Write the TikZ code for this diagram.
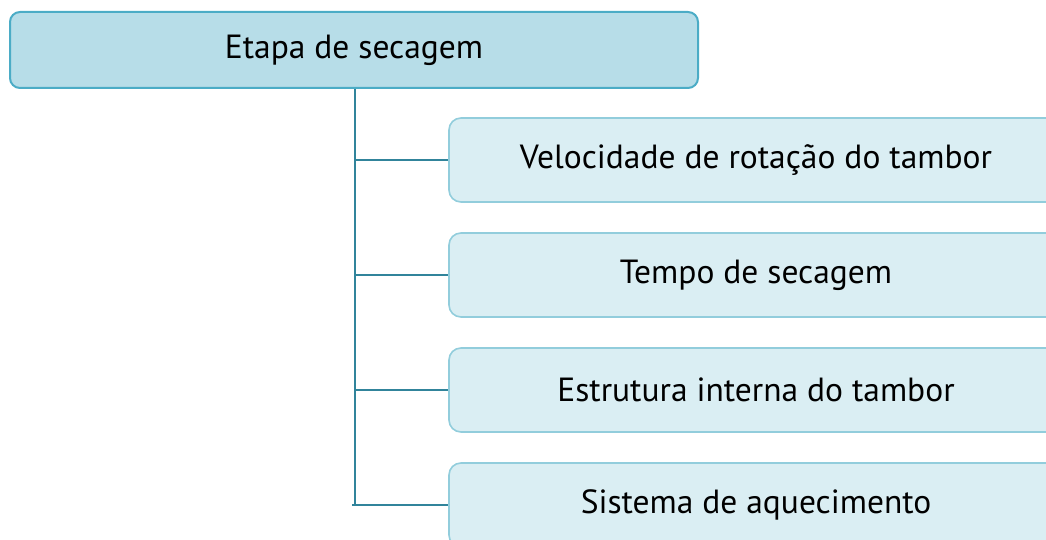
\documentclass[tikz,border=0pt]{standalone}
\usepackage{fontspec}
\setmainfont{PT Sans}
\definecolor{topfill}{HTML}{B7DDE8}
\definecolor{topdraw}{HTML}{4BACC6}
\definecolor{subfill}{HTML}{DAEEF3}
\definecolor{subdraw}{HTML}{92CDDC}
\definecolor{conn}{HTML}{31849B}
\begin{document}
\begin{tikzpicture}[x=1pt,y=-1pt,
  topbox/.style={draw=topdraw,fill=topfill,line width=2pt,rounded corners=10pt,
    minimum width=688pt,minimum height=76pt,inner sep=0pt,font=\fontsize{33.5}{38}\selectfont},
  subbox/.style={draw=subdraw,fill=subfill,line width=1.6pt,rounded corners=12pt,
    minimum width=614pt,minimum height=84pt,inner sep=0pt,font=\fontsize{33.5}{38}\selectfont},
  link/.style={draw=conn,line width=1.6pt}]
\useasboundingbox (0,0) rectangle (1046,540);
\clip (0,0) rectangle (1046,540);
\node[topbox] (top) at (354,50) {Etapa de secagem};
\node[subbox] (c1) at (756,160) {Velocidade de rotação do tambor};
\node[subbox] (c2) at (756,275) {Tempo de secagem};
\node[subbox] (c3) at (756,390) {Estrutura interna do tambor};
\node[subbox] (c4) at (756,505) {Sistema de aquecimento};
\coordinate (trunk) at (355,88);
\draw[link] (top.south -| trunk) -- (trunk |- c4.west);
\draw[link] (trunk |- c1.west) -- (c1.west);
\draw[link] (trunk |- c2.west) -- (c2.west);
\draw[link] (trunk |- c3.west) -- (c3.west);
\draw[link] ([xshift=-3pt]trunk |- c4.west) -- (c4.west);
\end{tikzpicture}
\end{document}
